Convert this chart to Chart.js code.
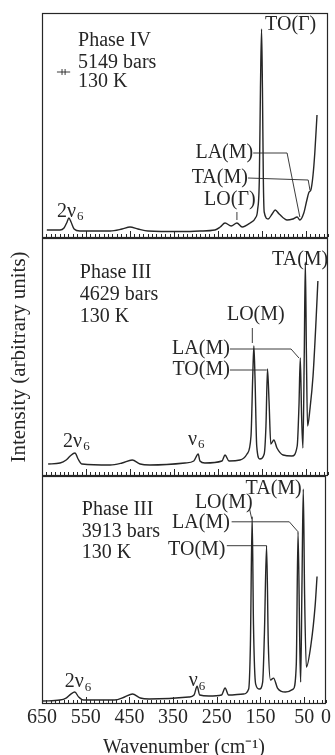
<!DOCTYPE html>
<html>
<head>
<meta charset="utf-8">
<script src="https://cdn.jsdelivr.net/npm/chart.js@4.4.1/dist/chart.umd.min.js"></script>
<style>
html, body { margin: 0; padding: 0; background: #fff; overflow: hidden; }
#wrap { position: relative; width: 335px; height: 755px; overflow: hidden; }
canvas { position: absolute; left: 0; }
</style>
</head>
<body>
<div id="wrap">
<canvas id="PanelTop" width="335" height="241" style="top:0px"></canvas>
<canvas id="PanelMid" width="335" height="244" style="top:235px"></canvas>
<canvas id="PanelBot" width="335" height="285" style="top:473px"></canvas>
</div>
<script>
const SERIF = "'Liberation Serif', 'Times New Roman', serif";
const INK = "#262626";

// Phase IV, 5149 bars, 130 K  (wavenumber cm-1, intensity a.u.)
const wave1 = [639, 609, 600, 593, 589, 584, 577, 564, 495, 468, 450, 432, 409, 336, 291, 257, 245, 234, 220, 207, 195, 177, 165, 160, 156, 153.5, 151, 149, 147, 145, 136, 127, 120, 111, 93, 80, 70, 64, 55, 48, 43, 39, 34, 30, 25];
const int1  = [8, 8, 10, 16, 20, 16, 9, 7, 7, 9, 11, 9, 7, 6.5, 7, 8, 11, 15, 12, 15, 11, 15, 20, 28, 60, 150, 209, 150, 60, 26, 19, 24, 28, 24, 18, 19, 21, 18, 25, 38, 46, 48, 63, 85, 123];

// Phase III, 4629 bars, 130 K
const wave2 = [636, 609, 595, 586, 575, 568, 559, 495, 468, 445, 427, 405, 325, 305, 295, 291, 280, 241, 234, 225, 200, 184, 175, 171, 168.5, 166, 162, 155, 145, 141, 137.5, 134, 130, 123, 116, 102, 82, 70, 66, 63, 60, 57, 54, 51.5, 49, 46.5, 41, 34, 27, 23];
const int2  = [12, 13, 16, 20, 23, 17, 12, 11, 13, 16, 12, 11, 13, 15, 22, 15, 13, 15, 21, 15, 16, 22, 40, 100, 130, 100, 30, 17, 22, 50, 107, 75, 32, 36, 28, 21, 20, 30, 70, 118, 60, 28, 120, 214, 120, 50, 67, 100, 157, 195];

// Phase III, 3913 bars, 130 K
const wave3 = [648, 609, 595, 584, 575, 566, 555, 484, 461, 443, 425, 405, 314, 302, 295, 289, 268, 239, 231, 223, 189, 177, 173, 169, 166, 161, 152, 145, 141, 136, 132, 127, 120, 111, 93, 75, 68, 64, 60, 58, 55, 52, 49, 45, 34, 25, 20.5];
const int3  = [3, 4, 6, 10, 12, 7, 4, 4, 7, 10, 6, 5, 7, 9, 18, 9, 8, 9, 16, 9, 10, 15, 60, 188, 80, 20, 15, 22, 70, 159, 60, 24, 26, 16, 12, 15, 40, 173, 60, 22, 120, 216, 110, 37, 61, 98, 128];

const tickValues = [650, 550, 450, 350, 250, 150, 50, 0];

// labels and leader lines, in wavenumber / intensity units
const notes1 = [
	{text: "Phase IV", w: 568, v: 197, align: "left"},
	{text: "5149 bars", w: 568, v: 175, align: "left"},
	{text: "130 K", w: 568, v: 156, align: "left"},
	{text: "TO(Γ)", w: 143, v: 213, align: "left"},
	{text: "LA(M)", w: 170, v: 85, align: "right"},
	{text: "TA(M)", w: 182, v: 60, align: "right"},
	{text: "LO(Γ)", w: 223, v: 38, align: "center"},
	{text: "2ν", sub: "6", w: 616, v: 26, align: "left"}
];
const leaders1 = [
	[[170, 85], [93, 85], [64, 21]],
	[[182, 60], [45, 58], [41, 48]],
	[[207, 26], [207, 18]],
	[[616, 166], [586, 166]],
	[[604.5, 169], [604.5, 163]],
	[[597.5, 169], [597.5, 163]]
];

const notes2 = [
	{text: "Phase III", w: 564, v: 203, align: "left"},
	{text: "4629 bars", w: 564, v: 181, align: "left"},
	{text: "130 K", w: 564, v: 159, align: "left"},
	{text: "TA(M)", w: 127, v: 216, align: "left"},
	{text: "LO(M)", w: 164, v: 161, align: "center"},
	{text: "LA(M)", w: 223, v: 127, align: "right"},
	{text: "TO(M)", w: 223, v: 106, align: "right"},
	{text: "2ν", sub: "6", w: 602, v: 34, align: "left"},
	{text: "ν", sub: "6", w: 318, v: 36, align: "left"}
];
const leaders2 = [
	[[172, 148], [172, 133]],
	[[223, 127], [84, 127], [66, 118]],
	[[223, 106], [139, 106]]
];

const notes3 = [
	{text: "Phase III", w: 559, v: 195, align: "left"},
	{text: "3913 bars", w: 559, v: 173, align: "left"},
	{text: "130 K", w: 559, v: 152, align: "left"},
	{text: "TA(M)", w: 184, v: 216, align: "left"},
	{text: "LO(M)", w: 234, v: 202, align: "center"},
	{text: "LA(M)", w: 220, v: 182, align: "right"},
	{text: "TO(M)", w: 230, v: 155, align: "right"},
	{text: "2ν", sub: "6", w: 598, v: 22, align: "left"},
	{text: "ν", sub: "6", w: 314, v: 23, align: "left"}
];
const leaders3 = [
	[[175, 196], [170, 186]],
	[[216, 183], [84, 183], [64, 173]],
	[[227, 159], [136, 159]]
];

function toPoints(w, v) {
	return w.map((x, i) => ({x: x, y: v[i]}));
}

// frame, inward ticks, labels
function panelDecor(name, notes, leaders) {
	return {
		id: name,
		afterDatasetsDraw(chart) {
			const ctx = chart.ctx;
			const a = chart.chartArea;
			const x = chart.scales.x;
			const y = chart.scales.y;
			ctx.save();
			ctx.strokeStyle = INK;
			ctx.lineWidth = 1.2;
			ctx.strokeRect(Math.round(a.left) + 0.5, Math.round(a.top) + 0.5, Math.round(a.width) - 1, Math.round(a.height) - 1);

			ctx.lineWidth = 1;
			ctx.beginPath();
			for (let w = 0; w <= 650; w += 10) {
				const px = Math.round(x.getPixelForValue(w)) + 0.5;
				const len = (w % 100 === 50) ? 6 : 3;
				ctx.moveTo(px, a.bottom - 1);
				ctx.lineTo(px, a.bottom - 1 - len);
			}
			ctx.stroke();

			ctx.lineWidth = 0.9;
			leaders.forEach(path => {
				ctx.beginPath();
				path.forEach((p, i) => {
					const px = x.getPixelForValue(p[0]);
					const py = y.getPixelForValue(p[1]);
					if (i === 0) ctx.moveTo(px, py); else ctx.lineTo(px, py);
				});
				ctx.stroke();
			});

			ctx.fillStyle = INK;
			ctx.textBaseline = "middle";
			notes.forEach(n => {
				const px = x.getPixelForValue(n.w);
				const py = y.getPixelForValue(n.v);
				ctx.font = "20px " + SERIF;
				ctx.textAlign = n.align;
				ctx.fillText(n.text, px, py);
				if (n.sub) {
					const tw = ctx.measureText(n.text).width;
					ctx.font = "13px " + SERIF;
					ctx.textAlign = "left";
					ctx.fillText(n.sub, px + tw + 1, py + 5);
				}
			});
			ctx.restore();
		}
	};
}

function spectrum(w, v) {
	return {
		data: toPoints(w, v),
		borderColor: INK,
		borderWidth: 1.4,
		pointRadius: 0,
		fill: false,
		cubicInterpolationMode: "monotone"
	};
}

const baseX = {type: "linear", reverse: true, min: 0, max: 650, display: false};

const TOP = document.getElementById("PanelTop");
let TopChart = new Chart(TOP, {
	type: "line",
	data: {datasets: [spectrum(wave1, int1)]},
	options: {
		responsive: false,
		animation: false,
		devicePixelRatio: 1,
		layout: {padding: {left: 42, right: 7, top: 13, bottom: 3}},
		plugins: {legend: {display: false}, tooltip: {enabled: false}},
		scales: {
			x: baseX,
			y: {min: 0, max: 225, display: false}
		}
	},
	plugins: [panelDecor("decorTop", notes1, leaders1)]
});

const MID = document.getElementById("PanelMid");
let MidChart = new Chart(MID, {
	type: "line",
	data: {datasets: [spectrum(wave2, int2)]},
	options: {
		responsive: false,
		animation: false,
		devicePixelRatio: 1,
		layout: {padding: {left: 0, right: 7, top: 3, bottom: 3}},
		plugins: {legend: {display: false}, tooltip: {enabled: false}},
		scales: {
			x: baseX,
			y: {
				min: 0, max: 238,
				ticks: {display: false},
				grid: {display: false, drawTicks: false},
				border: {display: false},
				title: {
					display: true,
					text: "Intensity (arbitrary units)",
					color: INK,
					font: {family: SERIF, size: 21, lineHeight: 1},
					padding: {top: 9, bottom: 12}
				}
			}
		}
	},
	plugins: [panelDecor("decorMid", notes2, leaders2)]
});

const BOT = document.getElementById("PanelBot");
let BotChart = new Chart(BOT, {
	type: "line",
	data: {datasets: [spectrum(wave3, int3)]},
	options: {
		responsive: false,
		animation: false,
		devicePixelRatio: 1,
		layout: {padding: {left: 42, right: 7, top: 3, bottom: 0}},
		plugins: {legend: {display: false}, tooltip: {enabled: false}},
		scales: {
			x: {
				type: "linear", reverse: true, min: 0, max: 650,
				afterBuildTicks: (scale) => { scale.ticks = tickValues.map(v => ({value: v})); },
				ticks: {color: INK, padding: 4, maxRotation: 0, autoSkip: false, font: {family: SERIF, size: 20, lineHeight: 1}},
				grid: {display: false, drawTicks: false},
				border: {display: false},
				title: {
					display: true,
					text: "Wavenumber (cm⁻¹)",
					color: INK,
					font: {family: SERIF, size: 20, lineHeight: 1},
					padding: {top: 6, bottom: 0}
				}
			},
			y: {min: 0, max: 229, display: false}
		}
	},
	plugins: [panelDecor("decorBot", notes3, leaders3)]
});
</script>
</body>
</html>
